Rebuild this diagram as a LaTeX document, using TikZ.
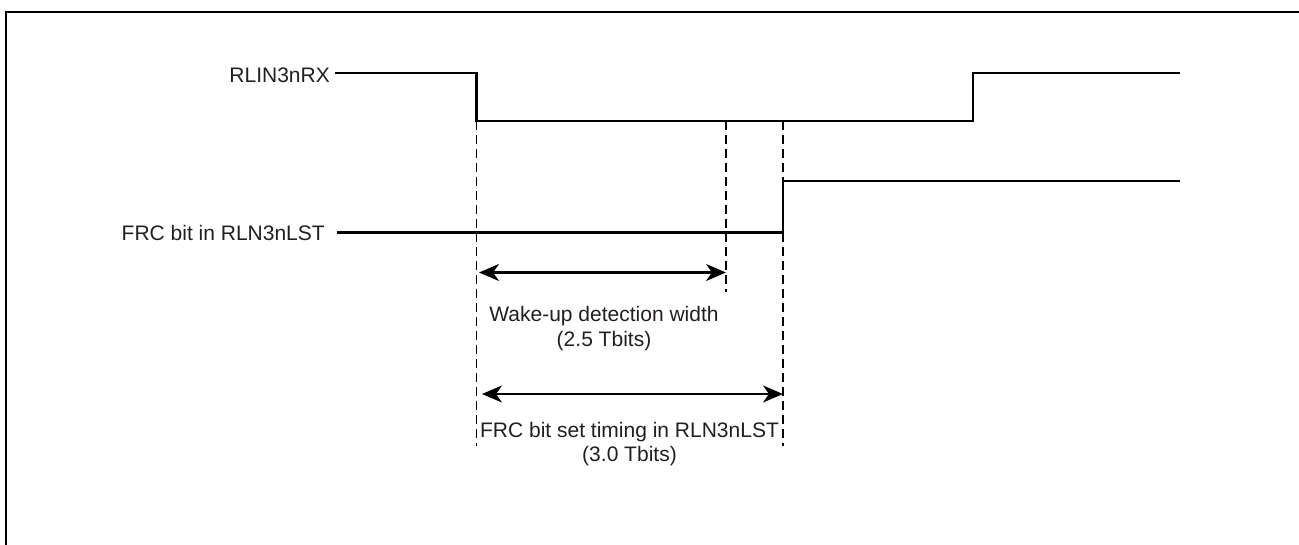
\documentclass[tikz,border=0pt]{standalone}
\usepackage{fontspec}
\setmainfont{Liberation Sans}
\usetikzlibrary{arrows.meta}
\definecolor{ink}{RGB}{35,31,32}
\begin{document}
\begin{tikzpicture}[x=1pt,y=-1pt,
  sig/.style={line width=2.8pt},
  guide/.style={line width=1.2pt, dash pattern=on 9pt off 5pt},
  dimarrow/.style={line width=2.2pt,
    {Stealth[length=20pt,width=17pt,inset=6pt]}-{Stealth[length=20pt,width=17pt,inset=6pt]}},
  lbl/.style={inner sep=0pt, font=\fontsize{21}{25}\selectfont, text=ink},
  frameline/.style={line width=2.2pt}]
\useasboundingbox (0,0) rectangle (1299,545);
% frame (only top and left edges visible)
\draw[frameline] (6,547) -- (6,12) -- (1301,12);

% signal labels
\node[lbl,anchor=east] (rx) at (330,75) {RLIN3nRX};
\node[lbl,anchor=east] (frc) at (325,232.5) {FRC bit in RLN3nLST};

% key coordinates
\coordinate (rxstart) at (335,73);
\coordinate (rxfallhi) at (476.5,73);
\coordinate (rxfalllo) at (476.5,121);
\coordinate (rxriselo) at (973,121);
\coordinate (rxrisehi) at (973,73);
\coordinate (rxend) at (1180,73);
\coordinate (frcstart) at (337,232.5);
\coordinate (frcriselo) at (783,232.5);
\coordinate (frcrisehi) at (783,181);
\coordinate (frcend) at (1180,181);
\coordinate (wk) at (726,121);
\coordinate (a0) at (476.5,446);
\coordinate (a1) at (726,292);
\coordinate (a2) at (783,121);
\coordinate (a3) at (783,446);

% waveforms
\draw[sig] (rxstart) -- (rxfallhi) -- (rxfalllo) -- (rxriselo) -- (rxrisehi) -- (rxend);
\draw[sig] (frcstart) -- (frcriselo) -- (frcrisehi) -- (frcend);

% guide lines
\draw[guide] (rxfalllo) -- (a0);
\draw[guide] (wk) -- (a1);
\draw[guide] (a2) -- (a3);

% dimension arrows
\coordinate (d1l) at (479,272.5);
\coordinate (d1r) at (726,272.5);
\coordinate (d2l) at (482,394);
\coordinate (d2r) at (783,394);
\draw[dimarrow] (d1l) -- (d1r);
\draw[dimarrow] (d2l) -- (d2r);

% dimension labels (anchored at the baseline of the last line)
\node[lbl,align=center,anchor=base] (wlbl) at (604,347) {Wake-up detection width\\(2.5 Tbits)};
\node[lbl,align=center,anchor=base] (flbl) at (629.5,461) {FRC bit set timing in RLN3nLST\\[-1pt](3.0 Tbits)};
\end{tikzpicture}
\end{document}
